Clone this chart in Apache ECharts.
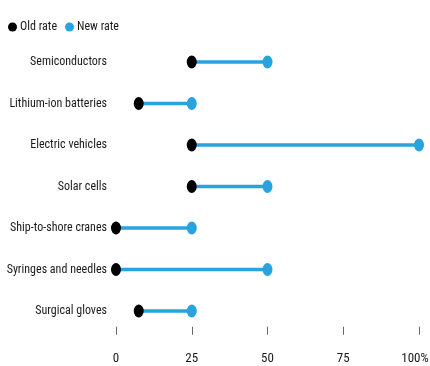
<!DOCTYPE html>
<html>
<head>
<meta charset="utf-8">
<script src="https://cdn.jsdelivr.net/npm/echarts@6/dist/echarts.min.js"></script>
<style>
html,body{margin:0;padding:0;background:#fff;}
#c{width:430px;height:366px;}
</style>
</head>
<body>
<div id="c"></div>
<script>
const categories = ["Semiconductors","Lithium-ion batteries","Electric vehicles","Solar cells","Ship-to-shore cranes","Syringes and needles","Surgical gloves"];
const oldRate = [25, 7.5, 25, 25, 0, 0, 7.5];
const newRate = [50, 25, 100, 50, 25, 50, 25];
const tickValues = [0, 25, 50, 75, 100];

const FONT = '"Roboto Condensed", "Liberation Sans Narrow", sans-serif';
const BLUE = '#29a3de';
const INK = '#1a1a1a';
const chart = echarts.init(document.getElementById('c'), null, {renderer:'canvas'});

chart.setOption({
  animation: false,
  textStyle: {fontFamily: FONT},
  legend: {
    left: 3, top: 16,
    itemWidth: 9, itemHeight: 11, itemGap: 8,
    icon: 'circle',
    textStyle: {fontFamily: FONT, fontSize: 12, color: INK, padding: [0,0,0,-2]},
    data: ['Old rate', 'New rate']
  },
  grid: {left: 116, right: 11, top: 41.25, bottom: 34.25, containLabel: false, outerBoundsMode: 'none'},
  xAxis: {
    type: 'value', min: 0, max: 100, interval: 25,
    offset: -5,
    axisLine: {show: false},
    axisTick: {show: true, length: 8, lineStyle: {color: '#666', width: 1}},
    splitLine: {show: false},
    axisLabel: {
      margin: 25, fontFamily: FONT, fontSize: 13, color: INK,
      formatter: v => tickValues.indexOf(v) === tickValues.length - 1 ? '{last|' + v + '%}' : String(v),
      rich: {last: {fontFamily: FONT, fontSize: 13, color: INK, padding: [0, 8, 0, 0]}}
    }
  },
  yAxis: {
    type: 'category', data: categories, inverse: true,
    axisLine: {show: false}, axisTick: {show: false}, splitLine: {show: false},
    axisLabel: {margin: 9, fontFamily: FONT, fontSize: 12, color: INK}
  },
  series: [
    {
      type: 'custom', name: 'range', silent: true, z: 1,
      data: categories.map((c, i) => [oldRate[i], newRate[i], i]),
      encode: {x: [0, 1], y: 2},
      renderItem: (params, api) => {
        const a = api.coord([api.value(0), api.value(2)]);
        const b = api.coord([api.value(1), api.value(2)]);
        return {type: 'line', shape: {x1: a[0], y1: a[1], x2: b[0], y2: b[1]},
                style: {stroke: BLUE, lineWidth: 3.5}};
      }
    },
    {
      type: 'scatter', name: 'New rate', z: 3, symbol: 'circle', symbolSize: [10, 13],
      itemStyle: {color: BLUE, opacity: 1},
      data: categories.map((c, i) => [newRate[i], c])
    },
    {
      type: 'scatter', name: 'Old rate', z: 4, symbol: 'circle', symbolSize: [10, 13],
      itemStyle: {color: '#000', opacity: 1},
      data: categories.map((c, i) => [oldRate[i], c])
    }
  ]
});
</script>
</body>
</html>
